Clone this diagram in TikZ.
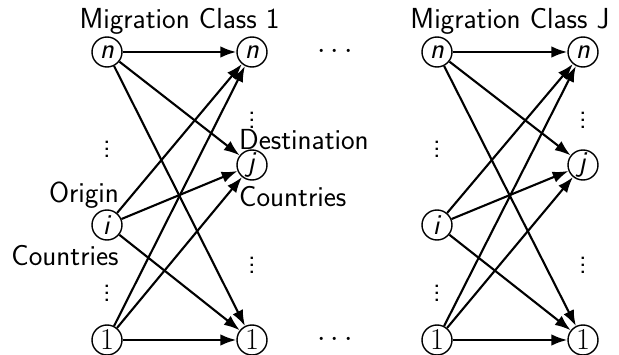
\documentclass[tikz,border=0pt]{standalone}
\usepackage{tikz}
\usetikzlibrary{arrows.meta}
\begin{document}
\begin{tikzpicture}[font=\fontsize{16.5}{19.8}\selectfont\sffamily]
        \tikzstyle{country} = [circle, draw=black, line width=.8pt, inner sep=0pt, minimum size=.6cm]
        \tikzstyle{label} = [text=black, inner sep=1pt]
        \tikzstyle{line} = [-{Latex[length=9pt,width=6.5pt]},draw=black,line width=1.2pt]
        \useasboundingbox (0,0) rectangle (12.38,7.1);
        % class 1
        \node[label] (title1) at (3.59,6.68) {Migration Class 1};
        \node[country] (on1) at (2.14,6.06) {\textit{n}};
        \node[country] (oi1) at (2.14,2.6) {\textit{i}};
        \node[country] (oa1) at (2.14,0.3) {$1$};
        \node[country] (dn1) at (5.04,6.06) {\textit{n}};
        \node[country] (dj1) at (5.04,3.8) {\textit{j}};
        \node[country] (da1) at (5.04,0.3) {$1$};
        \node[label] (ovd1) at (2.14,4.22) {$\vdots$};
        \node[label] (ovd2) at (2.14,1.34) {$\vdots$};
        \node[label] (dvd1) at (5.04,4.8) {$\vdots$};
        \node[label] (dvd2) at (5.04,1.9) {$\vdots$};
        \node[label] (orig) at (1.68,3.2) {Origin};
        \node[label] (ocount) at (1.3,1.98) {Countries};
        \node[label,anchor=west] (dest) at (4.74,4.3) {Destination};
        \node[label,anchor=west] (dcount) at (4.74,3.16) {Countries};
        % dots between classes
        \node[label] (hd1) at (6.7,6.06) {$\cdots$};
        \node[label] (hd2) at (6.7,0.3) {$\cdots$};
        % class J
        \node[label] (title2) at (10.2,6.68) {Migration Class J};
        \node[country] (on2) at (8.74,6.06) {\textit{n}};
        \node[country] (oi2) at (8.74,2.6) {\textit{i}};
        \node[country] (oa2) at (8.74,0.3) {$1$};
        \node[country] (dn2) at (11.66,6.06) {\textit{n}};
        \node[country] (dj2) at (11.66,3.8) {\textit{j}};
        \node[country] (da2) at (11.66,0.3) {$1$};
        \node[label] (ovd3) at (8.74,4.22) {$\vdots$};
        \node[label] (ovd4) at (8.74,1.34) {$\vdots$};
        \node[label] (dvd3) at (11.66,4.8) {$\vdots$};
        \node[label] (dvd4) at (11.66,1.9) {$\vdots$};
        % flows
        \foreach \c in {1,2}
          \foreach \o in {on,oi,oa}
            \foreach \d in {dn,dj,da}
              \draw[line] (\o\c) to (\d\c);
    \end{tikzpicture}
\end{document}
